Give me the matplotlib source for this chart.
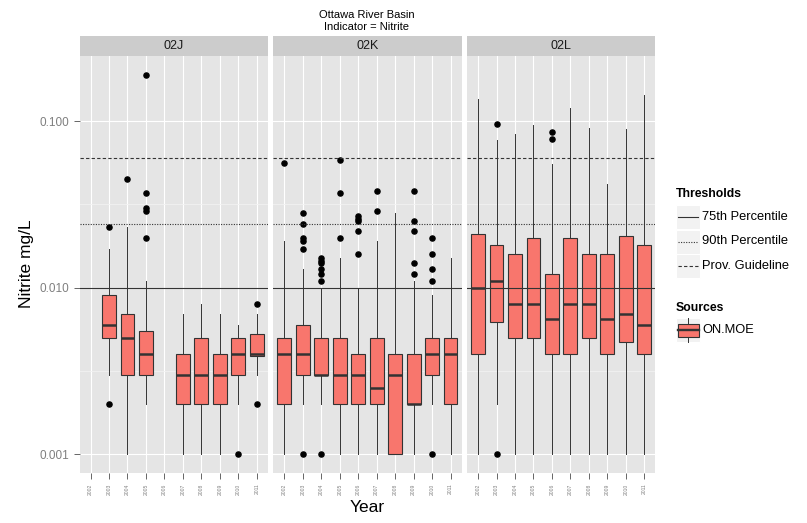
import numpy as np
import matplotlib.pyplot as plt
from matplotlib.patches import Rectangle
from matplotlib.ticker import FixedLocator, NullFormatter

plt.rcParams['font.family'] = ['Liberation Sans', 'DejaVu Sans']

W, H = 807, 523

years = [2002, 2003, 2004, 2005, 2006, 2007, 2008, 2009, 2010, 2011]
basins = ["02J", "02K", "02L"]

# box stats per year (None = no data)
lo_02J = [None, 0.003, 0.001, 0.002, None, 0.001, 0.001, 0.001, 0.002, 0.003]
q1_02J = [None, 0.005, 0.003, 0.003, None, 0.002, 0.002, 0.002, 0.003, 0.0039]
med_02J = [None, 0.006, 0.005, 0.004, None, 0.003, 0.003, 0.003, 0.004, 0.004]
q3_02J = [None, 0.009, 0.007, 0.0055, None, 0.004, 0.005, 0.004, 0.005, 0.0053]
hi_02J = [None, 0.017, 0.023, 0.011, None, 0.007, 0.008, 0.007, 0.006, 0.007]
out_02J = [[], [0.023, 0.002], [0.045], [0.19, 0.037, 0.030, 0.029, 0.020], [],
           [], [], [], [0.001], [0.008, 0.002]]

lo_02K = [0.001, 0.002, 0.002, 0.001, 0.001, 0.001, 0.001, 0.001, 0.002, 0.001]
q1_02K = [0.002, 0.003, 0.003, 0.002, 0.002, 0.002, 0.001, 0.002, 0.003, 0.002]
med_02K = [0.004, 0.004, 0.003, 0.003, 0.003, 0.0025, 0.003, 0.002, 0.004, 0.004]
q3_02K = [0.005, 0.006, 0.005, 0.005, 0.004, 0.005, 0.004, 0.004, 0.005, 0.005]
hi_02K = [0.019, 0.013, 0.010, 0.015, 0.010, 0.019, 0.028, 0.011, 0.009, 0.015]
out_02K = [[0.056],
           [0.028, 0.024, 0.020, 0.019, 0.017, 0.001],
           [0.015, 0.0145, 0.014, 0.013, 0.012, 0.011, 0.001],
           [0.058, 0.037, 0.020],
           [0.027, 0.026, 0.025, 0.022, 0.016],
           [0.038, 0.029],
           [],
           [0.038, 0.025, 0.022, 0.014, 0.012],
           [0.020, 0.016, 0.013, 0.011, 0.001],
           []]

lo_02L = [0.001, 0.002, 0.001, 0.001, 0.001, 0.001, 0.001, 0.001, 0.001, 0.001]
q1_02L = [0.004, 0.0062, 0.005, 0.005, 0.004, 0.004, 0.005, 0.004, 0.0047, 0.004]
med_02L = [0.010, 0.011, 0.008, 0.008, 0.0065, 0.008, 0.008, 0.0065, 0.007, 0.006]
q3_02L = [0.021, 0.018, 0.016, 0.020, 0.012, 0.020, 0.016, 0.016, 0.0205, 0.018]
hi_02L = [0.135, 0.077, 0.083, 0.094, 0.055, 0.120, 0.091, 0.042, 0.089, 0.143]
out_02L = [[], [0.096, 0.001], [], [], [0.086, 0.078], [], [], [], [], []]

threshold_names = ["75th Percentile", "90th Percentile", "Prov. Guideline"]
threshold_values = [0.010, 0.024, 0.060]
threshold_styles = ["-", (0, (1, 1.3)), (0, (3, 2))]

panel_data = {
    "02J": (lo_02J, q1_02J, med_02J, q3_02J, hi_02J, out_02J),
    "02K": (lo_02K, q1_02K, med_02K, q3_02K, hi_02K, out_02K),
    "02L": (lo_02L, q1_02L, med_02L, q3_02L, hi_02L, out_02L),
}

box_fill = "#F8766D"
dark = "#333333"


def frac(left, top, right, bottom):
    return [left / W, 1 - bottom / H, (right - left) / W, (bottom - top) / H]


fig = plt.figure(figsize=(W / 100, H / 100), dpi=100)

panel_lefts = [79.5, 273.3, 467.0]
panel_w = 188.3
p_top, p_bot = 56.0, 472.7

for k, b in enumerate(basins):
    left = panel_lefts[k]
    ax = fig.add_axes(frac(left, p_top, left + panel_w, p_bot))
    ax.set_facecolor("#E5E5E5")
    for s in ax.spines.values():
        s.set_visible(False)

    lo, q1, med, q3, hi, out = panel_data[b]
    stats, pos = [], []
    for i in range(len(years)):
        if med[i] is None:
            continue
        stats.append(dict(whislo=lo[i], q1=q1[i], med=med[i], q3=q3[i],
                          whishi=hi[i], fliers=out[i], label=str(years[i])))
        pos.append(i + 1)

    ax.bxp(stats, positions=pos, widths=0.75, patch_artist=True,
           showcaps=False, manage_ticks=False,
           boxprops=dict(facecolor=box_fill, edgecolor=dark, linewidth=0.8),
           medianprops=dict(color=dark, linewidth=1.8),
           whiskerprops=dict(color=dark, linewidth=0.7),
           flierprops=dict(marker="o", markerfacecolor="black",
                           markeredgecolor="black", markersize=3.7))

    for v, ls in zip(threshold_values, threshold_styles):
        ax.axhline(v, color=dark, linestyle=ls, linewidth=0.8, zorder=5)

    ax.set_yscale("log")
    ax.set_ylim(10 ** -3.110, 10 ** -0.610)
    ax.set_xlim(0.4, len(years) + 0.6)

    ax.yaxis.set_major_locator(FixedLocator([0.001, 0.01, 0.1]))
    ax.yaxis.set_minor_locator(FixedLocator([10 ** -2.5, 10 ** -1.5]))
    ax.yaxis.set_minor_formatter(NullFormatter())
    ax.set_yticklabels(["0.001", "0.010", "0.100"])
    ax.set_xticks(range(1, len(years) + 1))
    ax.set_xticklabels([str(y) for y in years], rotation=90, fontsize=3.6,
                       color="#7F7F7F")

    ax.set_axisbelow(True)
    ax.grid(which="major", color="white", linewidth=0.8)
    ax.grid(which="minor", axis="y", color="#F2F2F2", linewidth=0.6)
    ax.tick_params(axis="both", which="major", length=4, width=0.7,
                   color="#666666", pad=3.6)
    ax.tick_params(axis="y", which="minor", length=0)
    ax.tick_params(axis="y", labelsize=8.5, labelcolor="#7F7F7F")
    if k > 0:
        ax.tick_params(axis="y", which="both", left=False, labelleft=False)

    # facet strip
    sax = fig.add_axes(frac(left, 36.0, left + panel_w, 55.7))
    sax.set_facecolor("#CCCCCC")
    sax.set_xticks([])
    sax.set_yticks([])
    for s in sax.spines.values():
        s.set_visible(False)
    sax.text(0.5, 0.47, b, ha="center", va="center", fontsize=9,
             color="#1A1A1A", transform=sax.transAxes)

# overlay for titles and legend, in pixel units
ov = fig.add_axes([0, 0, 1, 1], facecolor="none")
ov.set_xlim(0, W)
ov.set_ylim(H, 0)
ov.axis("off")

ov.text(367, 15.5, "Ottawa River Basin", ha="center", va="center", fontsize=8)
ov.text(367, 27.3, "Indicator = Nitrite", ha="center", va="center", fontsize=8)
ov.text(367, 508, "Year", ha="center", va="center", fontsize=12.5)
ov.text(26, 264, "Nitrite mg/L", ha="center", va="center", fontsize=12.5,
        rotation=90)

# legend: thresholds
ov.text(676, 194, "Thresholds", ha="left", va="center", fontsize=8.8,
        fontweight="bold")
key_tops = [205.0, 229.5, 254.0]
for top, name, ls in zip(key_tops, threshold_names, threshold_styles):
    ov.add_patch(Rectangle((676, top), 24, 24, facecolor="#F2F2F2",
                           edgecolor="white", linewidth=0.8))
    ov.plot([678, 698], [top + 12, top + 12], color=dark, linestyle=ls,
            linewidth=0.8)
    ov.text(702, top + 12, name, ha="left", va="center", fontsize=9.3)

# legend: sources
ov.text(676, 308, "Sources", ha="left", va="center", fontsize=8.8,
        fontweight="bold")
ov.add_patch(Rectangle((676, 318), 24, 24, facecolor="#F2F2F2",
                       edgecolor="white", linewidth=0.8))
ov.plot([688, 688], [318, 323.5], color=dark, linewidth=0.7)
ov.plot([688, 688], [336.5, 342], color=dark, linewidth=0.7)
ov.add_patch(Rectangle((677.5, 323.5), 21, 13, facecolor=box_fill,
                       edgecolor=dark, linewidth=0.8))
ov.plot([677.5, 698.5], [330, 330], color=dark, linewidth=1.7)
ov.text(702, 330, "ON.MOE", ha="left", va="center", fontsize=9.3)

fig.savefig("out.png", dpi=100)
